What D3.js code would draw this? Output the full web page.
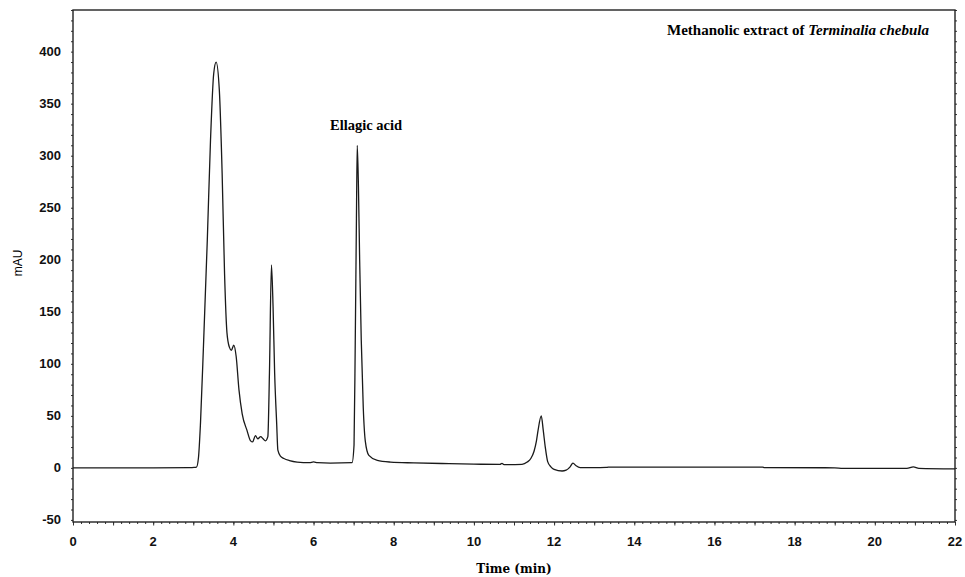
<!doctype html>
<html lang="en">
<head>
  <meta charset="UTF-8">
  <title>HPLC chromatogram</title>
  <script src="https://cdn.jsdelivr.net/npm/d3@7"></script>
  <style>
    body { margin: 0; background: #fff; }
    svg { display: block; }
  </style>
</head>
<body>
<div id="chart"></div>
<script>
  // retention time (min) and absorbance (mAU)
  var times = [0, 1.0, 2.0, 2.9, 3.02, 3.08, 3.13, 3.18, 3.26, 3.35, 3.43, 3.51, 3.57,
    3.65, 3.72, 3.78, 3.84, 3.9, 3.95, 4.01, 4.07, 4.14, 4.22, 4.34, 4.43, 4.48,
    4.55, 4.61, 4.68, 4.74, 4.8, 4.86, 4.9, 4.95, 4.99, 5.03, 5.08, 5.11, 5.18,
    5.26, 5.4, 5.59, 5.9, 6.0, 6.1, 6.42, 6.96, 7.01, 7.04, 7.07, 7.09, 7.12,
    7.15, 7.19, 7.24, 7.29, 7.38, 7.59, 7.92, 8.5, 9.2, 10.0, 10.65, 10.7,
    10.75, 11.2, 11.33, 11.42, 11.5, 11.56, 11.6, 11.68, 11.73, 11.78, 11.84,
    11.92, 12.0, 12.2, 12.3, 12.4, 12.47, 12.55, 12.65, 13.0, 13.3, 13.35,
    15.0, 17.2, 17.25, 19.0, 19.2, 19.3, 20.8, 20.96, 21.1, 22.0];
  var mAU = [0, 0, 0, 0.3, 0.5, 0.8, 10, 43, 123, 219, 315, 379, 390,
    363, 283, 187, 130, 116, 113, 118, 107, 75, 52, 36, 26, 25,
    31, 28, 30, 28, 26, 30, 91, 195, 155, 91, 43, 17, 11,
    9, 7, 5.6, 5, 5.8, 5, 4.6, 5, 22, 120, 240, 310, 270,
    200, 123, 58, 26, 12, 7.2, 5.6, 4.8, 4.2, 3.6, 3.4, 4.3,
    3.2, 3.4, 5.6, 9, 16, 26, 36, 50, 36, 20, 6,
    1, -1.5, -3, -2.2, 1, 4.6, 2, 0.3, 0.2, 0.4, 0.8,
    0.8, 0.8, 0.2, 0.1, -0.4, -0.4, -0.4, 1, -0.5, -1];

  var xTicks = [0, 2, 4, 6, 8, 10, 12, 14, 16, 18, 20, 22];
  var yTicks = [-50, 0, 50, 100, 150, 200, 250, 300, 350, 400];

  var width = 965, height = 577;
  var margin = {top: 10, right: 10, bottom: 55, left: 73};

  var x = d3.scaleLinear().domain([0, 22]).range([margin.left, width - margin.right]);
  var y = d3.scaleLinear().domain([-52, 440]).range([height - margin.bottom, margin.top]);

  var svg = d3.select('#chart').append('svg')
      .attr('width', width)
      .attr('height', height);

  // minor ticks: every 0.2 min on x, every 10 mAU on y
  var xMinor = d3.range(0, 22.001, 0.2).map(function(d) { return +d.toFixed(1); });
  var xMid = d3.range(0, 23, 1);
  var yMinor = d3.range(-50, 441, 10);

  svg.append('g')
      .attr('transform', 'translate(0,' + (height - margin.bottom) + ')')
      .call(d3.axisBottom(x).tickValues(xMinor).tickSize(2).tickFormat(''))
      .call(function(g) { g.select('.domain').remove(); });
  svg.append('g')
      .attr('transform', 'translate(0,' + (height - margin.bottom) + ')')
      .call(d3.axisBottom(x).tickValues(xMid).tickSize(3.5).tickFormat(''))
      .call(function(g) { g.select('.domain').remove(); });
  svg.append('g')
      .attr('transform', 'translate(' + margin.left + ',0)')
      .call(d3.axisLeft(y).tickValues(yMinor).tickSize(2).tickFormat(''))
      .call(function(g) { g.select('.domain').remove(); });
  svg.append('g')
      .attr('transform', 'translate(' + (width - margin.right) + ',0)')
      .call(d3.axisRight(y).tickValues(yMinor).tickSize(2).tickFormat(''))
      .call(function(g) { g.select('.domain').remove(); });
  svg.selectAll('.tick line').attr('stroke', '#333');

  // tick labels
  svg.append('g').selectAll('text')
      .data(xTicks)
      .enter().append('text')
      .attr('x', function(d) { return x(d); })
      .attr('y', 546)
      .attr('text-anchor', 'middle')
      .style('font', 'bold 13px "Liberation Sans", Arial, sans-serif')
      .style('fill', '#111')
      .text(function(d) { return d; });
  svg.append('g').selectAll('text')
      .data(yTicks)
      .enter().append('text')
      .attr('x', 61)
      .attr('y', function(d) { return y(d) + 4.5; })
      .attr('text-anchor', 'end')
      .style('font', 'bold 13px "Liberation Sans", Arial, sans-serif')
      .style('fill', '#111')
      .text(function(d) { return d; });

  // frame
  svg.append('rect')
      .attr('x', margin.left)
      .attr('y', margin.top)
      .attr('width', width - margin.left - margin.right)
      .attr('height', height - margin.top - margin.bottom)
      .attr('fill', 'none')
      .attr('stroke', '#222')
      .attr('stroke-width', 1.4);

  var line = d3.line()
      .x(function(d, i) { return x(times[i]); })
      .y(function(d) { return y(d); })
      .curve(d3.curveMonotoneX);

  svg.append('path')
      .datum(mAU)
      .attr('d', line)
      .attr('fill', 'none')
      .attr('stroke', '#1a1a1a')
      .attr('stroke-width', 1.3);

  // labels
  svg.append('text')
      .attr('transform', 'translate(22,263) rotate(-90)')
      .attr('text-anchor', 'middle')
      .style('font', '12px "Liberation Sans", Arial, sans-serif')
      .text('mAU');

  svg.append('text')
      .attr('x', 514)
      .attr('y', 573)
      .attr('text-anchor', 'middle')
      .style('font', 'bold 12px "DejaVu Serif", serif')
      .text('Time (min)');

  svg.append('text')
      .attr('x', 330)
      .attr('y', 130)
      .style('font', 'bold 14.5px "Liberation Serif", "Times New Roman", serif')
      .text('Ellagic acid');

  var title = svg.append('text')
      .attr('x', 667)
      .attr('y', 35)
      .style('font', 'bold 15px "Liberation Serif", "Times New Roman", serif');
  title.append('tspan').text('Methanolic extract of ');
  title.append('tspan').style('font-style', 'italic').text('Terminalia chebula');
</script>
</body>
</html>
